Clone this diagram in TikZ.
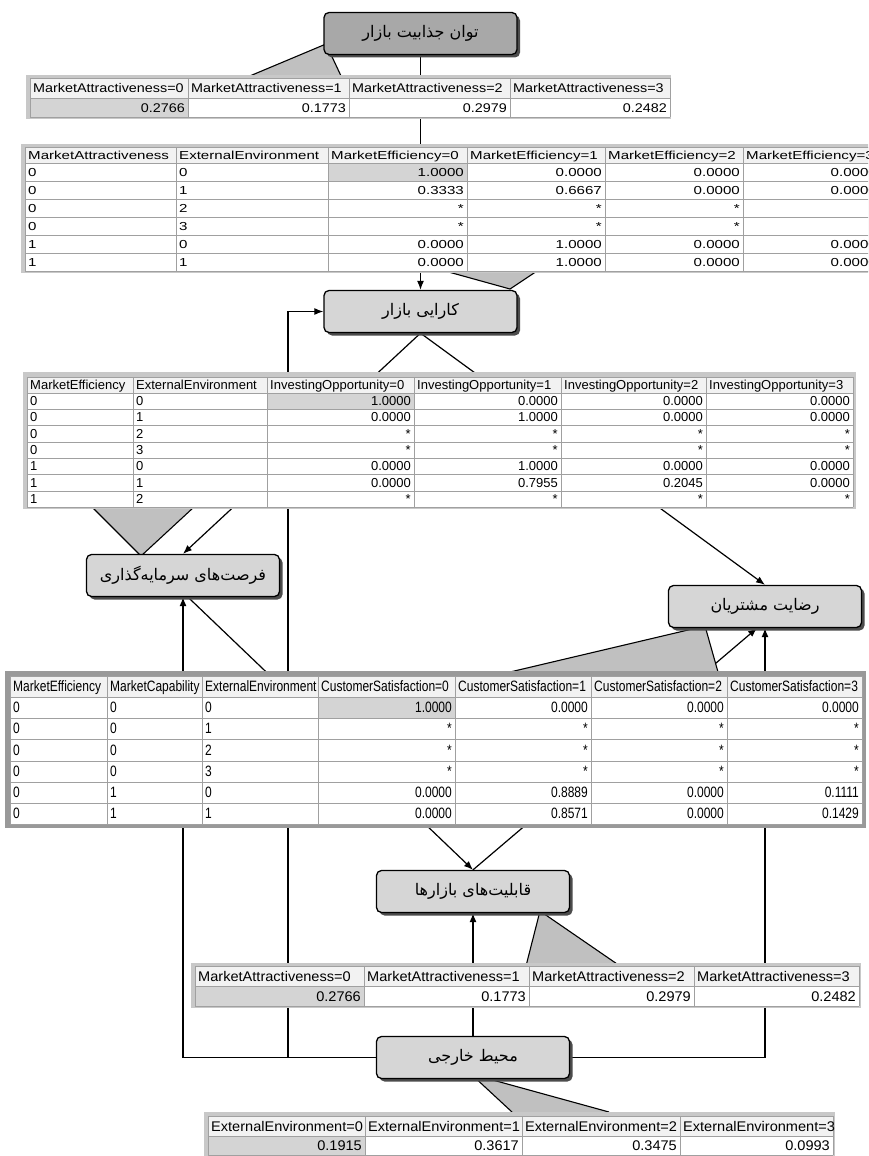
\documentclass[tikz,border=0pt]{standalone}
\usepackage{fontspec}
\usetikzlibrary{arrows.meta,shadows,calc}
\TeXXeTstate=1
\newfontfamily\fa[Script=Arabic]{DejaVu Sans}
\newfontfamily\fA[FakeStretch=1.14]{Liberation Sans}
\newfontfamily\fB[FakeStretch=1.3]{Liberation Sans}
\newfontfamily\fC{Liberation Sans}
\newfontfamily\fD[FakeStretch=0.8]{Liberation Sans}
\newfontfamily\fE[FakeStretch=1.04]{Liberation Sans}
\definecolor{nodegray}{HTML}{D6D6D6}
\definecolor{nodedark}{HTML}{A8A8A8}
\definecolor{callout}{HTML}{C0C0C0}
\definecolor{tframe}{HTML}{C8C8C8}
\definecolor{thead}{HTML}{F2F2F2}
\definecolor{tsel}{HTML}{D4D4D4}
\definecolor{tline}{HTML}{A0A0A0}
\pgfdeclarelayer{bg}
\pgfdeclarelayer{mid}
\pgfsetlayers{bg,mid,main}
\tikzset{
 bn/.style={draw=black, line width=1.3pt, rounded corners=5pt, fill=nodegray,
   minimum width=193pt, minimum height=42pt, inner sep=0pt,
   drop shadow={shadow xshift=3pt, shadow yshift=-3pt, opacity=1, fill=black!70},
   font=\fa\fontsize{16}{18}\selectfont},
 edge/.style={line width=1.2pt, -{Latex[length=9pt,width=7pt]}},
 cal/.style={fill=callout},
 caledge/.style={line width=1.1pt},
 gridl/.style={draw=tline, line width=0.8pt},
 tA/.style={font=\fA\fontsize{12.6}{14}\selectfont, inner sep=0pt},
 tB/.style={font=\fB\fontsize{11.6}{13}\selectfont, inner sep=0pt},
 tC/.style={font=\fC\fontsize{13}{15}\selectfont, inner sep=0pt},
 tD/.style={font=\fD\fontsize{15}{17}\selectfont, inner sep=0pt},
 tE/.style={font=\fE\fontsize{14}{16}\selectfont, inner sep=0pt},
}
\newcommand\hcells[4]{\foreach \xx/\txt [count=\i] in {#4} \node[#2, anchor=base west] (#1\i) at (\xx+3,#3) {\txt};}
\newcommand\rcells[4]{\foreach \xx/\txt [count=\i] in {#4} \node[#2, anchor=base east] (#1\i) at (\xx-3,#3) {\txt};}
\begin{document}
\begin{tikzpicture}[x=1pt,y=-1pt]
\useasboundingbox (0,0) rectangle (868,1156);

% ---------- nodes ----------
\node[bn, fill=nodedark] (n1) at (420.5,33.5) {\beginR توان جذابیت بازار\endR};
\node[bn] (n2) at (420.5,311.5) {\beginR کارایی بازار\endR};
\node[bn] (n3) at (183,575.5) {\beginR فرصت‌های سرمایه‌گذاری\endR};
\node[bn] (n4) at (765,606.5) {\beginR رضایت مشتریان\endR};
\node[bn] (n5) at (473,891.5) {\beginR قابلیت‌های بازارها\endR};
\node[bn] (n7) at (473,1057.5) {\beginR محیط خارجی\endR};
\coordinate (c2) at (288,311.5);

% ---------- connectors ----------
\begin{pgfonlayer}{bg}
\fill[white] (0,0) rectangle (868,1156);
\draw[edge] (n1) -- (n2);
\draw[edge] (n7.west) -| (c2) -- (n2.west);
\draw[edge] (n7.west) -| (n3.south);
\draw[edge] (n7.east) -| (n4.south);
\draw[edge] (n7) -- (n5);
\draw[edge] (n2.south) -- (n3.north);
\draw[edge] (n2.south) -- (n4.north);
\draw[edge] ($(n3.south)+(5,0)$) -- (n5.north);
\draw[edge] (n5.north) -- ($(n4.south)+(-8,0)$);
\end{pgfonlayer}

\begin{pgfonlayer}{mid}
% ---------- callouts ----------
\fill[cal] (245,78) -- (326,44) -- (342,78) -- cycle;
\draw[caledge] (245,78) -- (326,44) -- (342,78);
\fill[cal] (445,271) -- (510,289) -- (537,271) -- cycle;
\draw[caledge] (445,271) -- (510,289) -- (537,271);
\fill[cal] (92,507) -- (141,556) -- (194,507) -- cycle;
\draw[caledge] (92,507) -- (141,556) -- (194,507);
\fill[cal] (510,672) -- (705,626) -- (718,672) -- cycle;
\draw[caledge] (510,672) -- (705,626) -- (718,672);
\fill[cal] (526,966) -- (540,911) -- (620,966) -- cycle;
\draw[caledge] (526,966) -- (540,911) -- (620,966);
\fill[cal] (512,1112) -- (471,1074) -- (609,1112) -- cycle;
\draw[caledge] (512,1112) -- (471,1074) -- (609,1112);

% ---------- table 1 ----------
\fill[tframe] (26,75) rectangle (671,119);
\fill[white] (30,78) rectangle (670,117);
\fill[thead] (30,78) rectangle (670,98);
\fill[tsel] (30,98) rectangle (188,117);
\foreach \xx in {30,188,349,510,670} \draw[gridl] (\xx,78) -- (\xx,117);
\foreach \yy in {78,98,117} \draw[gridl] (30,\yy) -- (670,\yy);
\hcells{t1h}{tA}{92.5}{30/MarketAttractiveness=0,188/MarketAttractiveness=1,349/MarketAttractiveness=2,510/MarketAttractiveness=3}
\rcells{t1v}{tA}{112}{188/0.2766,349/0.1773,510/0.2979,670/0.2482}

% ---------- table 2 ----------
\begin{scope}
\clip (0,0) rectangle (868,1156);
\fill[tframe] (21,144) rectangle (884,273);
\fill[white] (25,147) rectangle (880,271);
\fill[thead] (25,147) rectangle (880,163);
\fill[tsel] (328,163) rectangle (467,181);
\foreach \xx in {25,176,328,467,605,743,880} \draw[gridl] (\xx,147) -- (\xx,271);
\foreach \yy in {147,163,181,199,217,235,253,271} \draw[gridl] (25,\yy) -- (880,\yy);
\hcells{t2h}{tB}{159}{25/MarketAttractiveness,176/ExternalEnvironment,328/MarketEfficiency=0,467/MarketEfficiency=1,605/MarketEfficiency=2,743/MarketEfficiency=3}
\hcells{t2al}{tB}{176.2}{25/0,176/0}
\rcells{t2av}{tB}{176.2}{467/1.0000,605/0.0000,743/0.0000,880/0.0000}
\hcells{t2bl}{tB}{194.2}{25/0,176/1}
\rcells{t2bv}{tB}{194.2}{467/0.3333,605/0.6667,743/0.0000,880/0.0000}
\hcells{t2cl}{tB}{212.2}{25/0,176/2}
\rcells{t2cv}{tB}{212.2}{467/*,605/*,743/*,880/*}
\hcells{t2dl}{tB}{230.2}{25/0,176/3}
\rcells{t2dv}{tB}{230.2}{467/*,605/*,743/*,880/*}
\hcells{t2el}{tB}{248.2}{25/1,176/0}
\rcells{t2ev}{tB}{248.2}{467/0.0000,605/1.0000,743/0.0000,880/0.0000}
\hcells{t2fl}{tB}{266.2}{25/1,176/1}
\rcells{t2fv}{tB}{266.2}{467/0.0000,605/1.0000,743/0.0000,880/0.0000}
\end{scope}

% ---------- table 3 ----------
\fill[tframe] (23,372) rectangle (856,509);
\fill[white] (27,377) rectangle (853,507);
\fill[thead] (27,377) rectangle (853,393);
\fill[tsel] (267,393) rectangle (414,409);
\foreach \xx in {27,133,267,414,561,706,853} \draw[gridl] (\xx,377) -- (\xx,507);
\foreach \yy in {377,393,409,425.5,442,458,474.5,491,507} \draw[gridl] (27,\yy) -- (853,\yy);
\hcells{t3h}{tC}{389.5}{27/MarketEfficiency,133/ExternalEnvironment,267/InvestingOpportunity=0,414/InvestingOpportunity=1,561/InvestingOpportunity=2,706/InvestingOpportunity=3}
\hcells{t3al}{tC}{405.6}{27/0,133/0}
\rcells{t3av}{tC}{405.6}{414/1.0000,561/0.0000,706/0.0000,853/0.0000}
\hcells{t3bl}{tC}{421.8}{27/0,133/1}
\rcells{t3bv}{tC}{421.8}{414/0.0000,561/1.0000,706/0.0000,853/0.0000}
\hcells{t3cl}{tC}{438.3}{27/0,133/2}
\rcells{t3cv}{tC}{438.3}{414/*,561/*,706/*,853/*}
\hcells{t3dl}{tC}{454.6}{27/0,133/3}
\rcells{t3dv}{tC}{454.6}{414/*,561/*,706/*,853/*}
\hcells{t3el}{tC}{470.8}{27/1,133/0}
\rcells{t3ev}{tC}{470.8}{414/0.0000,561/1.0000,706/0.0000,853/0.0000}
\hcells{t3fl}{tC}{487.3}{27/1,133/1}
\rcells{t3fv}{tC}{487.3}{414/0.0000,561/0.7955,706/0.2045,853/0.0000}
\hcells{t3gl}{tC}{503.6}{27/1,133/2}
\rcells{t3gv}{tC}{503.6}{414/*,561/*,706/*,853/*}

% ---------- table 4 ----------
\fill[black!40] (5,671) rectangle (866,828);
\fill[white] (10,676) rectangle (862,824);
\fill[thead] (10,676) rectangle (862,697);
\fill[tsel] (318,697) rectangle (455,718);
\foreach \xx in {10,107,202,318,455,591,727,862} \draw[gridl] (\xx,676) -- (\xx,824);
\foreach \yy in {676,697,718,739,761,782,803,824} \draw[gridl] (10,\yy) -- (862,\yy);
\hcells{t4h}{tD}{691.9}{10/MarketEfficiency,107/MarketCapability,202/ExternalEnvironment,318/CustomerSatisfaction=0,455/CustomerSatisfaction=1,591/CustomerSatisfaction=2,727/CustomerSatisfaction=3}
\hcells{t4al}{tD}{712.9}{10/0,107/0,202/0}
\rcells{t4av}{tD}{712.9}{455/1.0000,591/0.0000,727/0.0000,862/0.0000}
\hcells{t4bl}{tD}{733.9}{10/0,107/0,202/1}
\rcells{t4bv}{tD}{733.9}{455/*,591/*,727/*,862/*}
\hcells{t4cl}{tD}{755.4}{10/0,107/0,202/2}
\rcells{t4cv}{tD}{755.4}{455/*,591/*,727/*,862/*}
\hcells{t4dl}{tD}{776.9}{10/0,107/0,202/3}
\rcells{t4dv}{tD}{776.9}{455/*,591/*,727/*,862/*}
\hcells{t4el}{tD}{797.9}{10/0,107/1,202/0}
\rcells{t4ev}{tD}{797.9}{455/0.0000,591/0.8889,727/0.0000,862/0.1111}
\hcells{t4fl}{tD}{818.9}{10/0,107/1,202/1}
\rcells{t4fv}{tD}{818.9}{455/0.0000,591/0.8571,727/0.0000,862/0.1429}

% ---------- table 5 ----------
\fill[tframe] (191,963) rectangle (861,1008);
\fill[white] (195,966) rectangle (859,1006);
\fill[thead] (195,966) rectangle (859,986);
\fill[tsel] (195,986) rectangle (364,1006);
\foreach \xx in {195,364,529,694,859} \draw[gridl] (\xx,966) -- (\xx,1006);
\foreach \yy in {966,986,1006} \draw[gridl] (195,\yy) -- (859,\yy);
\hcells{t5h}{tE}{981}{195/MarketAttractiveness=0,364/MarketAttractiveness=1,529/MarketAttractiveness=2,694/MarketAttractiveness=3}
\rcells{t5v}{tE}{1001}{364/0.2766,529/0.1773,694/0.2979,859/0.2482}

% ---------- table 6 ----------
\fill[tframe] (204,1112) rectangle (835,1157);
\fill[white] (208,1116) rectangle (833,1155);
\fill[thead] (208,1116) rectangle (833,1136);
\fill[tsel] (208,1136) rectangle (365,1155);
\foreach \xx in {208,365,522,680,833} \draw[gridl] (\xx,1116) -- (\xx,1155);
\foreach \yy in {1116,1136,1155} \draw[gridl] (208,\yy) -- (833,\yy);
\hcells{t6h}{tE}{1131}{208/ExternalEnvironment=0,365/ExternalEnvironment=1,522/ExternalEnvironment=2,680/ExternalEnvironment=3}
\rcells{t6v}{tE}{1150.5}{365/0.1915,522/0.3617,680/0.3475,833/0.0993}
\end{pgfonlayer}
\end{tikzpicture}
\end{document}
